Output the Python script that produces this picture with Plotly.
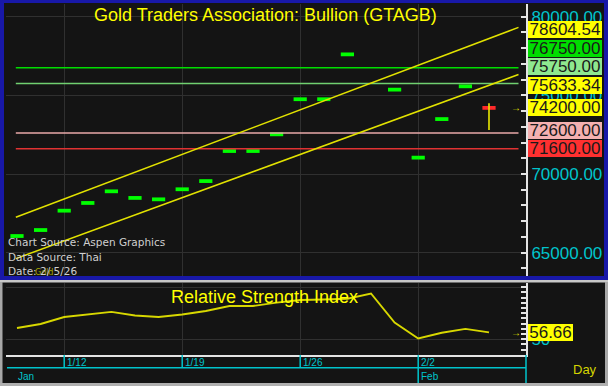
import plotly.graph_objects as go
import pandas as pd

# ---------------- data ----------------
dates = ["2026-01-08", "2026-01-09", "2026-01-12", "2026-01-13", "2026-01-14", "2026-01-15",
         "2026-01-16", "2026-01-19", "2026-01-20", "2026-01-21", "2026-01-22", "2026-01-23",
         "2026-01-26", "2026-01-27", "2026-01-28", "2026-01-29", "2026-01-30", "2026-02-02",
         "2026-02-03", "2026-02-04", "2026-02-05"]
close = [66060, 66440, 67670, 68160, 68900, 68480, 68390, 69030, 69550, 71460, 71460,
         72520, 74750, 74750, 77600, None, 75360, 71040, 73490, 75570, 74200]
last_high = 74490
last_low = 72790
rsi = [60.9, 64.7, 71.4, 73.8, 76.3, 72.9, 71.4, 73.8, 77.2, 82.0, 82.0,
       85.2, 87.8, 88.3, 89.0, 94.0, 66.0, 50.8, 56.3, 60.0, 56.66]
rsi_last = 56.66
levels = [76750.00, 75750.00, 72600.00, 71600.00]
level_line_colors = ["#00dd00", "#70d070", "#e8a8a8", "#e03232"]
level_box_colors = ["#00dd00", "#8fe88f", "#f4b0b0", "#ff3030"]
channel_upper_last = 78604.54
channel_lower_last = 75633.34
channel_upper_slope = 566.0   # per trading day
channel_lower_slope = 549.0
price_ticks = [65000, 70000, 75000, 80000]
rsi_ticks = [50, 100]
rsi_tick_text = ["50", ""]

# ---------------- geometry helpers ----------------
W, H = 608, 386
def PX(p):
    return p / W
def PY(p):
    return 1 - p / H

n = len(dates)
idx = list(range(n))
dt = pd.to_datetime(dates)
labels_md = [f"{d.month}/{d.day}" for d in dt]
week_idx = [i for i, d in enumerate(dt) if d.weekday() == 0]
month_idx = [i for i in range(n) if i == 0 or dt[i].month != dt[i - 1].month]

x_range = [-0.466, 21.568]
y_range = [63520, 80800]
rsi_range = [34.9, 104.1]
main_top, main_bot = 4, 276
rsi_top, rsi_bot = 283, 355
x_left, x_right = 6, 526

line_start = idx[0] - 0.05
line_end = idx[-1] + 1.25

CYAN = "#00c4cc"
YEL = "#ffff00"
BG = "#141414"
GRID = "#303030"
AX = "#e4e4e4"
FONT = "Liberation Sans, Arial, sans-serif"

fig = go.Figure()

# horizontal level lines
for lv, c in zip(levels, level_line_colors):
    fig.add_trace(go.Scatter(x=[line_start, line_end], y=[lv, lv], mode="lines",
                             line=dict(color=c, width=1.6), hoverinfo="skip",
                             xaxis="x", yaxis="y", showlegend=False))

# channel lines
last_i = idx[-1]
for last_val, slope in [(channel_upper_last, channel_upper_slope),
                        (channel_lower_last, channel_lower_slope)]:
    fig.add_trace(go.Scatter(
        x=[line_start, line_end],
        y=[last_val + slope * (line_start - last_i), last_val + slope * (line_end - last_i)],
        mode="lines", line=dict(color="#e2e200", width=1.5),
        hoverinfo="skip", xaxis="x", yaxis="y", showlegend=False))

# daily bodies
body = 240
gx = [i for i in idx[:-1] if close[i] is not None]
fig.add_trace(go.Bar(x=gx, y=[body] * len(gx), base=[close[i] - body / 2 for i in gx],
                     width=0.56, marker=dict(color="#00ff00", line=dict(width=0)),
                     xaxis="x", yaxis="y", showlegend=False, hoverinfo="skip"))
# last day wick + body
fig.add_trace(go.Scatter(x=[last_i, last_i], y=[last_low, last_high], mode="lines",
                         line=dict(color="#e8e800", width=1.6), xaxis="x", yaxis="y",
                         showlegend=False, hoverinfo="skip"))
fig.add_trace(go.Bar(x=[last_i], y=[body], base=[close[-1] - body / 2], width=0.56,
                     marker=dict(color="#ff2a2a", line=dict(width=0)),
                     xaxis="x", yaxis="y", showlegend=False, hoverinfo="skip"))

# RSI
fig.add_trace(go.Scatter(x=idx, y=rsi, mode="lines", line=dict(color="#d8d800", width=1.9),
                         xaxis="x2", yaxis="y2", showlegend=False, hoverinfo="skip"))

common_x = dict(range=x_range, domain=[PX(x_left), PX(x_right)], tickvals=week_idx,
                showticklabels=False, showgrid=True, gridcolor=GRID, gridwidth=1,
                zeroline=False, ticks="", fixedrange=True)
tickcommon = dict(ticks="inside", ticklen=5, tickwidth=1.5, tickcolor=AX,
                  showline=True, linecolor=AX, linewidth=2, zeroline=False)

fig.update_layout(
    width=W, height=H, margin=dict(l=0, r=0, t=0, b=0),
    paper_bgcolor=BG, plot_bgcolor=BG, barmode="overlay", showlegend=False,
    xaxis=dict(anchor="y", **common_x),
    xaxis2=dict(anchor="y2", showline=True, linecolor=AX, linewidth=2, **common_x),
    yaxis=dict(domain=[PY(main_bot), PY(main_top)], range=y_range, side="right", anchor="x",
               tickvals=price_ticks, tickformat=".2f",
               tickfont=dict(color=CYAN, size=17, family=FONT),
               showgrid=True, gridcolor=GRID,
               minor=dict(dtick=1000, tick0=0, ticks="inside", ticklen=5, tickwidth=1.5,
                          tickcolor=AX, showgrid=False),
               **tickcommon),
    yaxis3=dict(overlaying="y", side="left", anchor="x", range=y_range,
                tickvals=price_ticks, showticklabels=False, showgrid=False,
                minor=dict(dtick=1000, tick0=0, ticks="inside", ticklen=5, tickwidth=1.5,
                           tickcolor=AX, showgrid=False),
                **tickcommon),
    yaxis2=dict(domain=[PY(rsi_bot), PY(rsi_top)], range=rsi_range, side="right", anchor="x2",
                tickvals=rsi_ticks, ticktext=rsi_tick_text,
                tickfont=dict(color=CYAN, size=17, family=FONT),
                showgrid=True, gridcolor=GRID,
                minor=dict(dtick=5, tick0=0, ticks="inside", ticklen=5, tickwidth=1.5,
                           tickcolor=AX, showgrid=False),
                **tickcommon),
    yaxis4=dict(overlaying="y2", side="left", anchor="x2", range=rsi_range,
                tickvals=rsi_ticks, showticklabels=False, showgrid=False,
                minor=dict(dtick=5, tick0=0, ticks="inside", ticklen=5, tickwidth=1.5,
                           tickcolor=AX, showgrid=False),
                **tickcommon),
)

# ---------------- frame shapes ----------------
shapes = []
def rect(x0, y0, x1, y1, color):
    shapes.append(dict(type="rect", xref="paper", yref="paper", x0=PX(x0), x1=PX(x1),
                       y0=PY(y1), y1=PY(y0), fillcolor=color, line=dict(width=0), layer="above"))
BLUE = "#1818a8"
rect(0, 0, 608, 3, BLUE)
rect(0, 0, 4, 280, BLUE)
rect(604, 0, 608, 280, BLUE)
rect(0, 276, 608, 280, BLUE)
rect(0, 280, 608, 282.5, "#c8c8c8")
rect(0, 282, 2.5, 386, "#a8a8a8")
rect(605, 282, 608, 386, "#a8a8a8")
rect(0, 383, 608, 386, "#b0b0b0")

# date axis lines
def seg(xref, x0, x1, y0, y1, color, w=1.5):
    shapes.append(dict(type="line", xref=xref, yref="paper", x0=x0, x1=x1,
                       y0=PY(y0), y1=PY(y1), line=dict(color=color, width=w)))
seg("paper", PX(7), PX(x_right), 367.7, 367.7, CYAN)
seg("paper", PX(x_right), PX(x_right), rsi_bot, 383, CYAN)
for i in week_idx:
    bottom = 383 if i in month_idx else 367.7
    seg("x2", i, i, rsi_bot, bottom, CYAN)
fig.update_layout(shapes=shapes)

# ---------------- annotations ----------------
ann = []
def text(x, y, s, size, color, xanchor="left", family=FONT, **kw):
    ann.append(dict(xref="paper", yref="paper", x=PX(x), y=PY(y), text=s, showarrow=False,
                    xanchor=xanchor, yanchor="middle", font=dict(size=size, color=color, family=family), **kw))

text(265, 15, "Gold Traders Association: Bullion (GTAGB)", 18, YEL, xanchor="center")
text(264, 297, "Relative Strength Index", 18, YEL, xanchor="center")
text(6, 241.7, "Chart Source: Aspen Graphics", 10.5, "#d0d0d0", family="DejaVu Sans, sans-serif")
text(6, 256.7, "Data Source: Thai", 10.5, "#d0d0d0", family="DejaVu Sans, sans-serif")
text(33, 272, "Gold", 8, "#a8a800", family="DejaVu Sans, sans-serif")
text(6, 270.5, "Date: 2/\u00a05/26", 10.5, "#d0d0d0", family="DejaVu Sans, sans-serif")
text(571, 369, "Day", 13, "#d4d400")

# date labels
for i in week_idx:
    ann.append(dict(xref="x2", yref="paper", x=i, y=PY(362.5), text=labels_md[i], showarrow=False,
                    xanchor="left", xshift=1, yanchor="middle",
                    font=dict(size=10, color=CYAN, family=FONT)))
for i in month_idx:
    ann.append(dict(xref="x2", yref="paper", x=i, y=PY(376), text=dt[i].strftime("%b"),
                    showarrow=False, xanchor="left", xshift=(-1 if i == 0 else 1), yanchor="middle",
                    font=dict(size=10, color=CYAN, family=FONT)))

# value labels with simple stacking
def ypix(v):
    return main_top + (y_range[1] - v) / (y_range[1] - y_range[0]) * (main_bot - main_top)
def yval(p):
    return y_range[1] - (p - main_top) / (main_bot - main_top) * (y_range[1] - y_range[0])

items = [(channel_upper_last, YEL), (channel_lower_last, YEL), (close[-1], YEL)]
items += list(zip(levels, level_box_colors))
items.sort(key=lambda t: t[0])
spacing = 18.5
prev = None
for v, c in items:
    p = ypix(v)
    if prev is not None and p > prev - spacing:
        p = prev - spacing
    prev = p
    ann.append(dict(xref="paper", yref="y", x=PX(528), y=yval(p), text=f"{v:.2f}",
                    showarrow=False, xanchor="left", yanchor="middle", width=74, height=17,
                    bgcolor=c, borderpad=0, borderwidth=0, align="center",
                    font=dict(size=17, color="#1a1a1a", family=FONT)))

ann.append(dict(xref="paper", yref="y2", x=PX(528), y=rsi_last, text=f"{rsi_last:.2f}",
                showarrow=False, xanchor="left", yanchor="middle", width=45, height=17,
                bgcolor=YEL, borderpad=0, borderwidth=0, align="center",
                font=dict(size=17, color="#1a1a1a", family=FONT)))
# small arrows
ann.append(dict(xref="paper", yref="y", x=PX(516), y=close[-1], text="→", showarrow=False,
                xanchor="center", yanchor="middle", font=dict(size=10, color="#e0e000", family=FONT)))
ann.append(dict(xref="paper", yref="y2", x=PX(516), y=rsi_last, text="→", showarrow=False,
                xanchor="center", yanchor="middle", font=dict(size=10, color="#e0e000", family=FONT)))

fig.update_layout(annotations=ann)
fig.write_html("out.html")
